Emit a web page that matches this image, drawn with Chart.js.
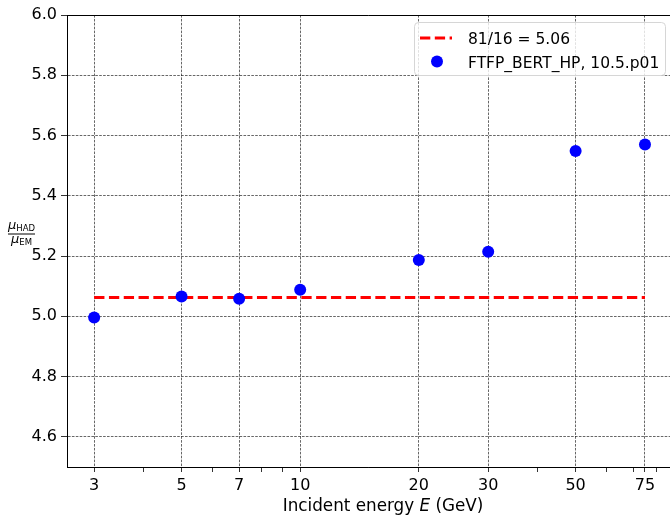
<!DOCTYPE html>
<html>
<head>
<meta charset="utf-8">
<script src="https://cdn.jsdelivr.net/npm/chart.js@4.4.0/dist/chart.umd.min.js"></script>
<style>
  html, body { margin: 0; padding: 0; background: #fff; }
  canvas { display: block; }
</style>
</head>
<body>
<canvas id="graficoRatio" width="670" height="517"></canvas>
<script>
// data
const energies = [3, 5, 7, 10, 20, 30, 50, 75];
const ratios = [4.996, 5.066, 5.058, 5.088, 5.187, 5.214, 5.549, 5.570];
const refEnergies = [3, 75];
const refRatio = 81 / 16;
const seriesLabels = ["81/16 = 5.06", "FTFP_BERT_HP, 10.5.p01"];
const xMajorTicks = [3, 5, 7, 10, 20, 30, 50, 75];
const xMinorTicks = [4, 6, 8, 9, 40, 60, 70, 80];
const yTicks = [4.6, 4.8, 5.0, 5.2, 5.4, 5.6, 5.8, 6.0];

const FONT = "DejaVu Sans";
const gridColor = "rgba(0,0,0,0.75)";

// frame, axis titles and legend
const decorPlugin = {
    id: "decor",
    afterDraw(chart) {
        const ctx = chart.ctx;
        const a = chart.chartArea;
        ctx.save();

        // top frame line
        ctx.strokeStyle = "#000";
        ctx.lineWidth = 1;
        ctx.beginPath();
        ctx.moveTo(a.left, a.top + 0.5);
        ctx.lineTo(a.right, a.top + 0.5);
        ctx.stroke();

        // x title with italic E
        ctx.fillStyle = "#000";
        ctx.textBaseline = "alphabetic";
        const p1 = "Incident energy ", p2 = "E", p3 = " (GeV)";
        const f = "16.8px '" + FONT + "'";
        const fi = "oblique 16.8px '" + FONT + "'";
        ctx.font = f;
        const w1 = ctx.measureText(p1).width, w3 = ctx.measureText(p3).width;
        ctx.font = fi;
        const w2 = ctx.measureText(p2).width;
        let x = 383 - (w1 + w2 + w3) / 2;
        const yb = 511;
        ctx.font = f;
        ctx.fillText(p1, x, yb);
        ctx.font = fi;
        ctx.fillText(p2, x + w1, yb);
        ctx.font = f;
        ctx.fillText(p3, x + w1 + w2, yb);

        // y title: mu_HAD / mu_EM
        const cx = 21.5;
        const drawMu = (sub, base) => {
            ctx.font = "oblique 13px '" + FONT + "'";
            const wm = ctx.measureText("\u03bc").width;
            ctx.font = "8.5px '" + FONT + "'";
            const ws = ctx.measureText(sub).width;
            const x0 = cx - (wm + ws) / 2;
            ctx.font = "oblique 13px '" + FONT + "'";
            ctx.fillText("\u03bc", x0, base);
            ctx.font = "8.5px '" + FONT + "'";
            ctx.fillText(sub, x0 + wm, base + 1.5);
        };
        drawMu("HAD", 229);
        drawMu("EM", 243);
        ctx.lineWidth = 1;
        ctx.beginPath();
        ctx.moveTo(8, 234);
        ctx.lineTo(35, 234);
        ctx.stroke();

        // legend box
        const bx = 414.5, by = 22.5, bw = 251, bh = 53, r = 4;
        ctx.beginPath();
        ctx.moveTo(bx + r, by);
        ctx.arcTo(bx + bw, by, bx + bw, by + bh, r);
        ctx.arcTo(bx + bw, by + bh, bx, by + bh, r);
        ctx.arcTo(bx, by + bh, bx, by, r);
        ctx.arcTo(bx, by, bx + bw, by, r);
        ctx.closePath();
        ctx.fillStyle = "rgba(255,255,255,0.8)";
        ctx.fill();
        ctx.strokeStyle = "#d6d6d6";
        ctx.lineWidth = 1;
        ctx.stroke();

        const ds = chart.data.datasets;
        ctx.strokeStyle = ds[0].borderColor;
        ctx.lineWidth = ds[0].borderWidth;
        ctx.setLineDash(ds[0].borderDash);
        ctx.beginPath();
        ctx.moveTo(420, 38);
        ctx.lineTo(452, 38);
        ctx.stroke();
        ctx.setLineDash([]);

        ctx.fillStyle = ds[1].backgroundColor;
        ctx.beginPath();
        ctx.arc(437, 61.5, 6, 0, Math.PI * 2);
        ctx.fill();

        ctx.fillStyle = "#000";
        ctx.font = "15.5px '" + FONT + "'";
        ctx.fillText(ds[0].label, 468, 44);
        ctx.fillText(ds[1].label, 468, 68);

        ctx.restore();
    }
};

new Chart(document.getElementById("graficoRatio").getContext("2d"), {
    type: "scatter",
    data: {
        datasets: [
            {
                label: seriesLabels[0],
                data: refEnergies.map(e => ({ x: e, y: refRatio })),
                showLine: true,
                borderColor: "#ff0000",
                borderWidth: 2.8,
                borderDash: [10.3, 4.5],
                pointRadius: 0,
                order: 2
            },
            {
                label: seriesLabels[1],
                data: energies.map((e, i) => ({ x: e, y: ratios[i] })),
                backgroundColor: "#0000ff",
                borderColor: "#0000ff",
                pointRadius: 6,
                pointBorderWidth: 0,
                order: 1
            }
        ]
    },
    options: {
        responsive: false,
        animation: false,
        devicePixelRatio: 1,
        layout: { autoPadding: false, padding: { top: 15, right: 0, left: 0, bottom: 0 } },
        plugins: {
            legend: { display: false },
            tooltip: { enabled: false }
        },
        scales: {
            x: {
                type: "logarithmic",
                min: 2.56,
                max: 86.8,
                afterBuildTicks: scale => {
                    scale.ticks = xMajorTicks.concat(xMinorTicks).map(v => ({ value: v }));
                },
                afterFit: scale => {
                    scale.height = 50;
                    scale.paddingLeft = 0;
                    scale.paddingRight = 0;
                },
                ticks: {
                    autoSkip: false,
                    maxRotation: 0,
                    padding: 4,
                    color: "#000",
                    font: { family: FONT, size: 16 },
                    callback: value => xMajorTicks.includes(value) ? String(value) : ""
                },
                grid: {
                    color: c => (c.tick && xMajorTicks.includes(c.tick.value)) ? gridColor : "rgba(0,0,0,0)",
                    tickColor: "#000",
                    lineWidth: 0.8,
                    tickLength: 5
                },
                border: { display: true, color: "#000", width: 1, dash: [2.6, 1.3] }
            },
            y: {
                min: 4.5,
                max: 6.0,
                afterBuildTicks: scale => {
                    scale.ticks = yTicks.map(v => ({ value: v }));
                },
                afterFit: scale => {
                    scale.width = 67;
                    scale.paddingTop = 0;
                    scale.paddingBottom = 0;
                },
                ticks: {
                    padding: 4,
                    color: "#000",
                    font: { family: FONT, size: 16 },
                    callback: value => value.toFixed(1)
                },
                grid: {
                    color: gridColor,
                    tickColor: "#000",
                    lineWidth: 0.8,
                    tickLength: 6
                },
                border: { display: true, color: "#000", width: 1, dash: [2.6, 1.3] }
            }
        }
    },
    plugins: [decorPlugin]
});
</script>
</body>
</html>
